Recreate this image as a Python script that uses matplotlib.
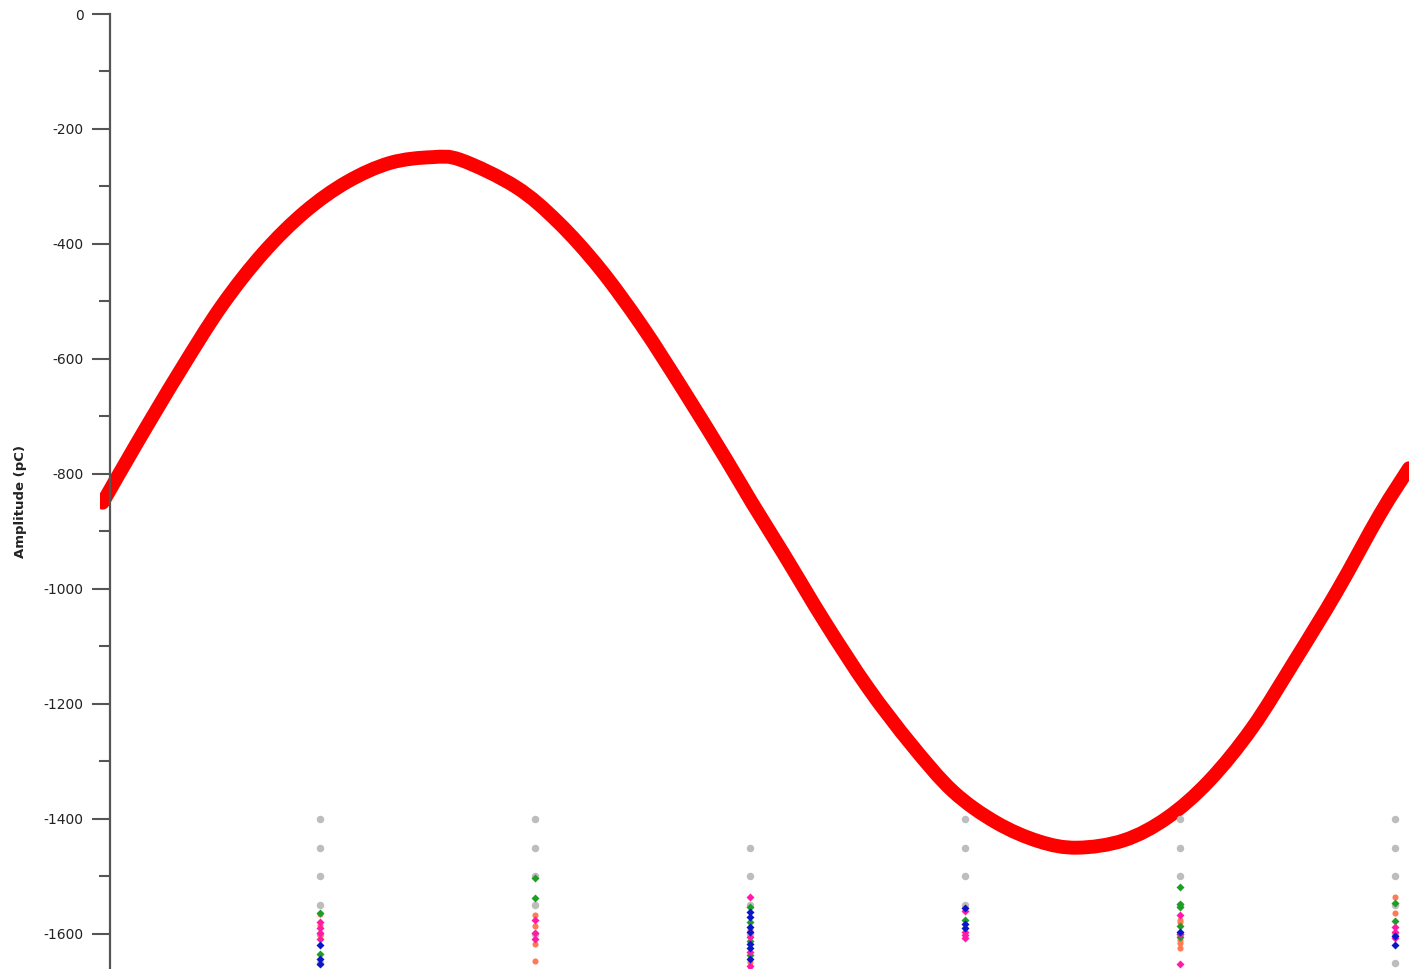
import numpy as np
import matplotlib
matplotlib.use("Agg")
import matplotlib.pyplot as plt
from matplotlib.ticker import MultipleLocator
from matplotlib.path import Path
from matplotlib.patches import PathPatch

plt.rcParams["axes.unicode_minus"] = False

# ---------------- data ----------------
# red signal curve (x in column units, column k sits at x=k)
curve_x = [-0.011, 0.149, 0.344, 0.540, 0.735, 0.930, 1.126, 1.326, 1.521,
           1.656, 1.912, 2.107, 2.302, 2.498, 2.693, 2.888, 3.009, 3.153,
           3.349, 3.549, 3.749, 3.944, 4.144, 4.344, 4.521, 4.740, 4.940,
           5.135, 5.335, 5.535, 5.730, 5.930, 6.065]
curve_y = [-850, -746, -624, -509, -416, -344, -292, -259, -249,
           -254, -301, -362, -443, -543, -656, -774, -850, -937,
           -1058, -1172, -1270, -1352, -1406, -1439, -1450, -1437, -1398,
           -1334, -1242, -1124, -1004, -870, -790]

# grey reference points
grey_x = [1, 1, 1, 1, 1, 1,
          2, 2, 2, 2, 2,
          3, 3, 3, 3,
          4, 4, 4, 4,
          5, 5, 5, 5, 5,
          6, 6, 6, 6, 6, 6]
grey_y = [-1400, -1450, -1500, -1550, -1600, -1650,
          -1400, -1450, -1500, -1550, -1600,
          -1450, -1500, -1550, -1600,
          -1400, -1450, -1500, -1550,
          -1400, -1450, -1500, -1550, -1600,
          -1400, -1450, -1500, -1550, -1600, -1650]

green_x = [1, 1, 2, 2, 3, 3, 3, 3, 4, 5, 5, 5, 5, 5, 6, 6]
green_y = [-1563, -1635, -1503, -1537, -1553, -1579, -1612, -1637, -1576,
           -1518, -1548, -1553, -1586, -1605, -1546, -1578]

blue_x = [1, 1, 1, 3, 3, 3, 3, 3, 3, 3, 4, 4, 4, 5, 6, 6]
blue_y = [-1619, -1643, -1652, -1562, -1570, -1588, -1597, -1617, -1625,
          -1643, -1555, -1582, -1590, -1597, -1603, -1619]

magenta_x = [1, 1, 1, 1, 2, 2, 2, 3, 3, 3, 3, 3, 4, 4, 4, 4, 5, 5, 5, 6, 6, 6]
magenta_y = [-1580, -1590, -1598, -1608, -1576, -1598, -1609, -1535, -1605,
             -1631, -1655, -1662, -1560, -1596, -1602, -1607, -1567, -1600,
             -1652, -1588, -1596, -1607]

orange_x = [1, 1, 1, 2, 2, 2, 2, 3, 3, 5, 5, 5, 5, 5, 6, 6]
orange_y = [-1566, -1585, -1602, -1567, -1587, -1617, -1647, -1593, -1648,
            -1575, -1580, -1610, -1616, -1625, -1536, -1563]


def smooth_path(xs, ys):
    # Catmull-Rom through the read points, drawn as cubic bezier segments
    p = np.column_stack([xs, ys]).astype(float)
    verts = [p[0]]
    codes = [Path.MOVETO]
    n = len(p)
    for i in range(n - 1):
        p0 = p[i - 1] if i > 0 else p[i]
        p3 = p[i + 2] if i + 2 < n else p[i + 1]
        c1 = p[i] + (p[i + 1] - p0) / 6.0
        c2 = p[i + 1] - (p3 - p[i]) / 6.0
        verts += [c1, c2, p[i + 1]]
        codes += [Path.CURVE4] * 3
    return Path(verts, codes)


# ---------------- figure ----------------
fig = plt.figure(figsize=(14.09, 9.69), dpi=100)
ax = fig.add_axes([100 / 1409, 0, 1309 / 1409, 955 / 969])

ax.add_patch(PathPatch(smooth_path(curve_x, curve_y), facecolor="none",
                       edgecolor="#ff0000", lw=10, capstyle="round",
                       joinstyle="round", zorder=2))

ax.plot(grey_x, grey_y, "o", color="#bdbdbd", ms=5.4, mec="none", zorder=3)
ax.plot(orange_x, orange_y, "o", color="#ff7a55", ms=4.4, mec="none", zorder=4)
ax.plot(green_x, green_y, "D", color="#1f9e25", ms=4, mec="none", zorder=4)
ax.plot(magenta_x, magenta_y, "D", color="#ff1aa8", ms=4, mec="none", zorder=5)
ax.plot(blue_x, blue_y, "D", color="#0a16c8", ms=4, mec="none", zorder=5)

ax.set_xlim(-0.0233, 6.065)
ax.set_ylim(-1661, 0)

for s in ["top", "right", "bottom"]:
    ax.spines[s].set_visible(False)
ax.spines["left"].set_position(("axes", 10 / 1309))
ax.spines["left"].set_color("#555555")
ax.spines["left"].set_linewidth(1.6)

ax.set_xticks([])
ax.yaxis.set_major_locator(MultipleLocator(200))
ax.yaxis.set_minor_locator(MultipleLocator(100))
ax.tick_params(axis="y", which="major", length=13, width=1.5, color="#555555",
               labelsize=10, labelcolor="#222222", pad=6)
ax.tick_params(axis="y", which="minor", length=8, width=1.5, color="#555555")

fig.text(21 / 1409, 1 - 501 / 969, "Amplitude (pC)", rotation=90,
         ha="center", va="center", fontsize=9.5, fontweight="bold",
         color="#222222")

fig.savefig("out.png", dpi=100)
